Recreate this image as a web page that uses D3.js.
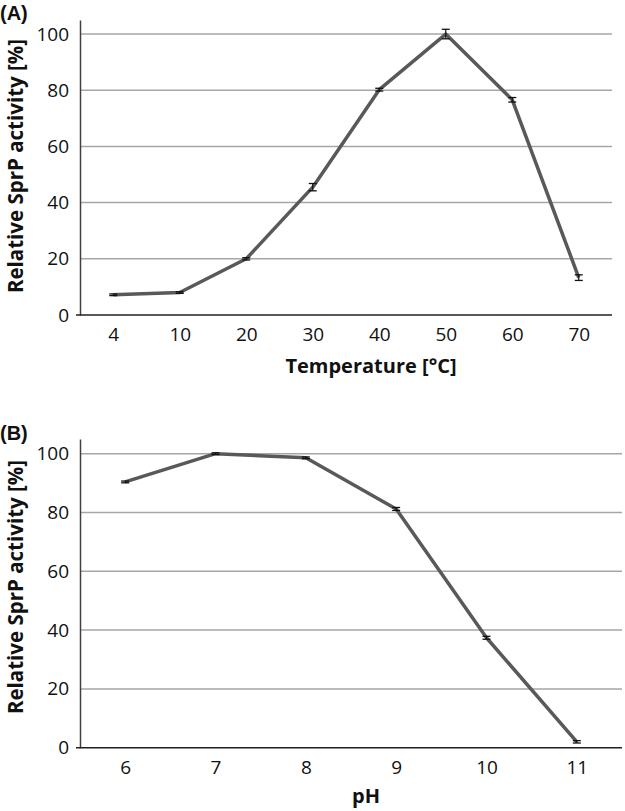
<!DOCTYPE html>
<html><head><meta charset="utf-8">
<script src="https://cdn.jsdelivr.net/npm/d3@7"></script>
<style>body{margin:0;background:#fff}svg{display:block}</style>
</head><body><svg id="c" width="625" height="811"></svg>
<script>
const tempCats = ["4","10","20","30","40","50","60","70"];
const tempVals = [7.2, 8.0, 20.0, 45.5, 80.2, 100.0, 76.6, 13.3];
const tempErr  = [0.3, 0.3, 0.4, 1.3, 0.5, 1.7, 0.8, 1.0];
const phCats = ["6","7","8","9","10","11"];
const phVals = [90.4, 100.0, 98.6, 81.2, 37.4, 2.0];
const phErr  = [0.3, 0.3, 0.3, 0.5, 0.5, 0.4];
const yTicks = [0, 20, 40, 60, 80, 100];
const yTitle = "Relative SprP activity [%]";

const svg = d3.select("#c");
const FONT = "'Open Sans', sans-serif";

function panel(o){
  const g = svg.append("g");
  const x = d3.scalePoint().domain(o.cats).range([o.left, o.right]).padding(0.5);
  const y = d3.scaleLinear().domain([0,105]).range([o.bottom, o.top]);
  g.selectAll(".grid").data(yTicks.filter(t=>t>0)).join("line")
    .attr("x1", o.left).attr("x2", o.right)
    .attr("y1", d=>y(d)).attr("y2", d=>y(d))
    .attr("stroke", "#a6a6a6").attr("stroke-width", 1.5);
  const ya = g.append("g").attr("transform", `translate(${o.left},0)`)
    .call(d3.axisLeft(y).tickValues(yTicks).tickSize(0).tickPadding(11));
  ya.select(".domain").attr("stroke", "#404040").attr("stroke-width", 1.5);
  ya.selectAll("text").attr("font-family", FONT).attr("font-size", 19).attr("fill", "#111");
  const xa = g.append("g").attr("transform", `translate(0,${o.bottom})`)
    .call(d3.axisBottom(x).tickSize(0).tickPadding(13));
  xa.select(".domain").attr("stroke", "#202020").attr("stroke-width", 1.5)
    .attr("d", `M${o.left-4},0H${o.right}`);
  xa.selectAll("text").attr("font-family", FONT).attr("font-size", 19).attr("fill", "#111");
  const line = d3.line().x((d,i)=>x(o.cats[i])).y(d=>y(d));
  g.append("path").datum(o.vals).attr("d", line)
    .attr("fill", "none").attr("stroke", "#595959").attr("stroke-width", 3.5)
    .attr("stroke-linejoin", "round");
  const eb = g.selectAll(".eb").data(o.vals.map((v,i)=>({c:o.cats[i], v, e:o.errs[i]}))).join("g");
  eb.append("line").attr("x1", d=>x(d.c)).attr("x2", d=>x(d.c))
    .attr("y1", d=>y(d.v+d.e)).attr("y2", d=>y(d.v-d.e)).attr("stroke", "#111").attr("stroke-width", 1.2);
  [1,-1].forEach(s=>{
    eb.append("line").attr("x1", d=>x(d.c)-4).attr("x2", d=>x(d.c)+4)
      .attr("y1", d=>y(d.v+s*d.e)).attr("y2", d=>y(d.v+s*d.e)).attr("stroke", "#111").attr("stroke-width", 1.3);
  });
  g.append("text").attr("transform", `translate(23,${o.yTitleC}) rotate(-90)`)
    .attr("text-anchor", "middle").attr("font-family", FONT).attr("font-weight", "bold")
    .attr("font-size", 20.5).attr("fill", "#111").text(yTitle);
  g.append("text").attr("x", o.xTitleX).attr("y", o.xTitleY).attr("text-anchor", "middle")
    .attr("font-family", FONT).attr("font-weight", "bold").attr("font-size", 20).attr("fill", "#111")
    .text(o.xTitle);
  g.append("text").attr("x", 0).attr("y", o.labelY)
    .attr("font-family", "'Liberation Sans', Arial, sans-serif").attr("font-weight", "bold")
    .attr("font-size", 20).attr("fill", "#111").text(o.label);
}

panel({cats: tempCats, vals: tempVals, errs: tempErr, left: 80, right: 612, top: 20, bottom: 315,
  yTitleC: 166, xTitle: "Temperature [°C]", xTitleX: 371, xTitleY: 373, label: "(A)", labelY: 20});
panel({cats: phCats, vals: phVals, errs: phErr, left: 80, right: 622, top: 439, bottom: 747.7,
  yTitleC: 587, xTitle: "pH", xTitleX: 366, xTitleY: 803, label: "(B)", labelY: 440});
</script></body></html>
